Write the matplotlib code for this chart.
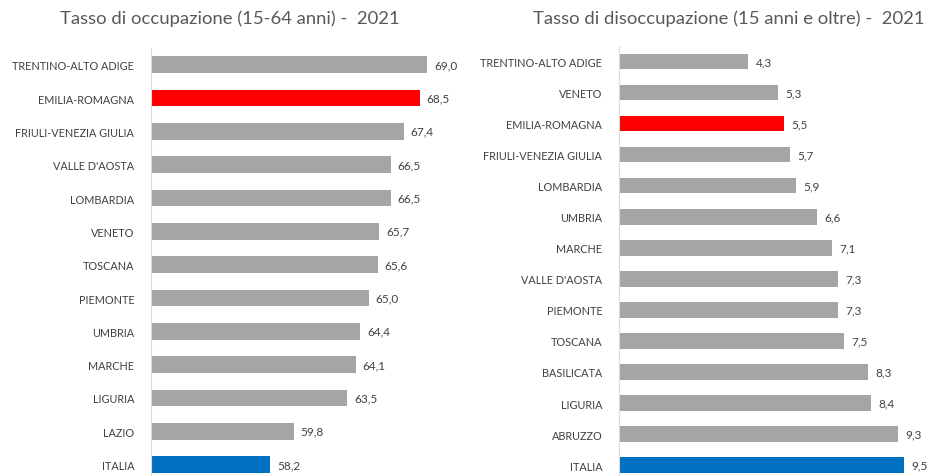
import matplotlib.pyplot as plt

plt.rcParams['font.family'] = ['Lato', 'DejaVu Sans']

# occupazione 15-64
occ_regions = ['TRENTINO-ALTO ADIGE', 'EMILIA-ROMAGNA', 'FRIULI-VENEZIA GIULIA', "VALLE D'AOSTA",
               'LOMBARDIA', 'VENETO', 'TOSCANA', 'PIEMONTE', 'UMBRIA', 'MARCHE', 'LIGURIA',
               'LAZIO', 'ITALIA']
occ_values = [69.0, 68.5, 67.4, 66.5, 66.5, 65.7, 65.6, 65.0, 64.4, 64.1, 63.5, 59.8, 58.2]

# disoccupazione 15+
dis_regions = ['TRENTINO-ALTO ADIGE', 'VENETO', 'EMILIA-ROMAGNA', 'FRIULI-VENEZIA GIULIA',
               'LOMBARDIA', 'UMBRIA', 'MARCHE', "VALLE D'AOSTA", 'PIEMONTE', 'TOSCANA',
               'BASILICATA', 'LIGURIA', 'ABRUZZO', 'ITALIA']
dis_values = [4.3, 5.3, 5.5, 5.7, 5.9, 6.6, 7.1, 7.3, 7.3, 7.5, 8.3, 8.4, 9.3, 9.5]

GREY = '#a5a5a5'
RED = '#ff0000'
BLUE = '#0070c0'
TXT = '#404040'


def colors_for(regions):
    out = []
    for r in regions:
        if r == 'EMILIA-ROMAGNA':
            out.append(RED)
        elif r == 'ITALIA':
            out.append(BLUE)
        else:
            out.append(GREY)
    return out


def draw(ax, regions, values, xmin, xmax, ybottom, pad_val):
    ax.barh(range(len(regions)), [v - xmin for v in values], left=xmin, height=0.5,
            color=colors_for(regions))
    for i, v in enumerate(values):
        ax.text(v + pad_val, i, f'{v:.1f}'.replace('.', ','), va='center', ha='left',
                fontsize=8.5, color=TXT)
    ax.set_yticks(range(len(regions)))
    ax.set_yticklabels(regions, fontsize=7.8, color=TXT)
    ax.tick_params(axis='y', length=0, pad=12)
    ax.set_xlim(xmin, xmax)
    ax.set_ylim(ybottom, -0.5)
    ax.set_xticks([])
    for s in ['top', 'right', 'bottom']:
        ax.spines[s].set_visible(False)
    ax.spines['left'].set_color('#d9d9d9')


fig = plt.figure(figsize=(9.41, 4.77), dpi=100)

W, H = 941, 477
ax1 = fig.add_axes([151 / W, 0, 320 / W, (H - 49) / H])
draw(ax1, occ_regions, occ_values, 50, 72, 12.34, 0.45)

ax2 = fig.add_axes([619 / W, 0, 321 / W, (H - 47) / H])
draw(ax2, dis_regions, dis_values, 0, 10.7, 13.35, 0.25)

fig.text(230 / W, 1 - 19 / H, 'Tasso di occupazione (15-64 anni) -  2021', ha='center', va='center',
         fontsize=13.3, color='#595959')
fig.text(729 / W, 1 - 19 / H, 'Tasso di disoccupazione (15 anni e oltre) -  2021', ha='center',
         va='center', fontsize=13.3, color='#595959')

fig.savefig('out.png', dpi=100)
